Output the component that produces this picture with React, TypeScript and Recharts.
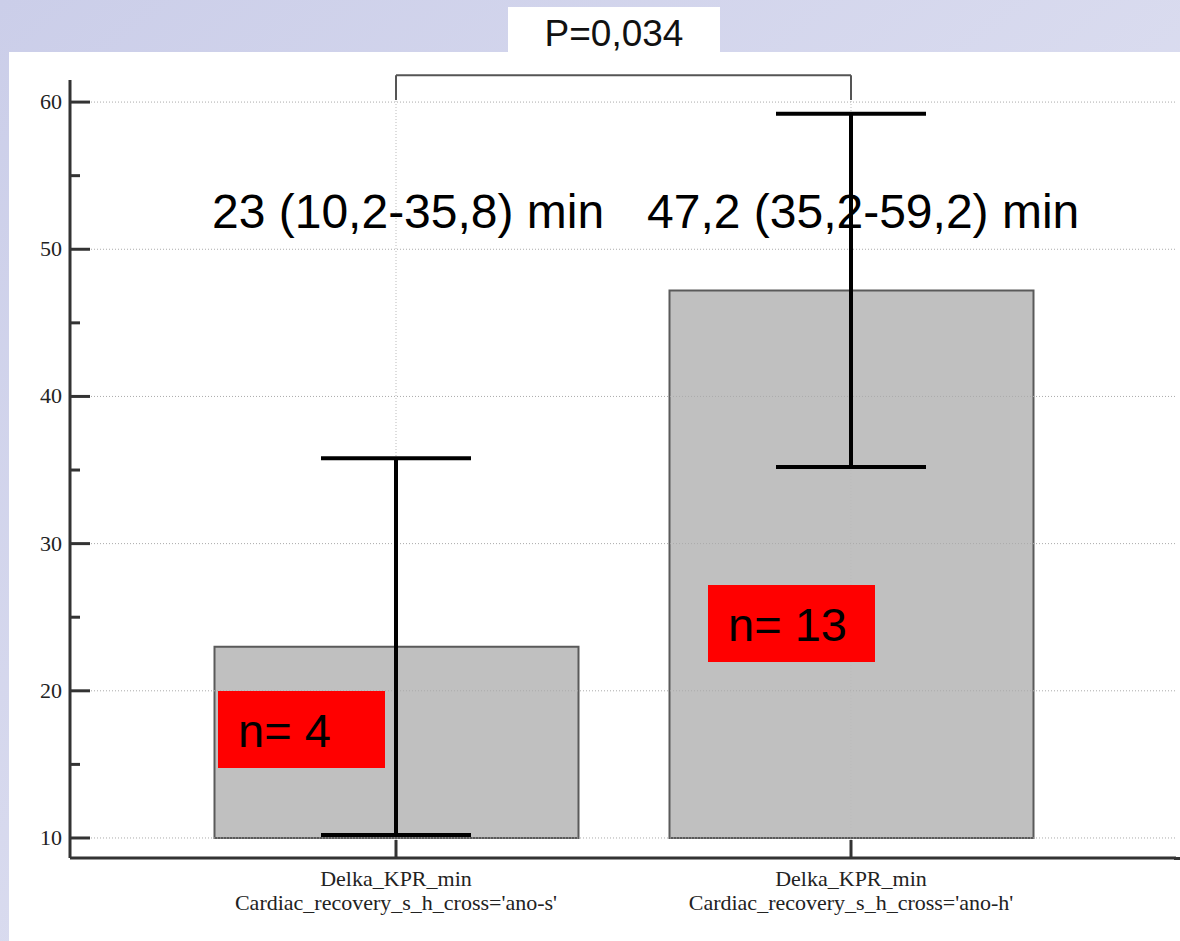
import React from 'react';
import { ComposedChart, Bar, Scatter, ErrorBar, XAxis, YAxis, ReferenceLine } from 'recharts';

// groups and their values (minutes)
const categories = ['ano-s', 'ano-h'];
const tickLines = [
    ['Delka_KPR_min', "Cardiac_recovery_s_h_cross='ano-s'"],
    ['Delka_KPR_min', "Cardiac_recovery_s_h_cross='ano-h'"],
];
const means = [23, 47.2];
const lows = [10.2, 35.2];
const highs = [35.8, 59.2];
const counts = [4, 13];
const meanLabels = ['23 (10,2-35,8) min', '47,2 (35,2-59,2) min'];
const pLabel = 'P=0,034';

const baseValue = 10;
const yTicks = [10, 15, 20, 25, 30, 35, 40, 45, 50, 55, 60];
const gridValues = [10, 20, 30, 40, 50, 60];
const bracketTop = 61.83;
const bracketFoot = 60.14;

const data = categories.map((name, i) => ({
    name,
    mean: means[i],
    err: [means[i] - lows[i], highs[i] - means[i]],
}));

const serif = '"Liberation Serif", "Times New Roman", serif';
const sans = '"Liberation Sans", Arial, sans-serif';

const YTick = (props: any) => {
    const { x, y, payload } = props;
    const major = payload.value % 10 === 0;
    return (
        <g>
            <line x1={x} x2={x + (major ? 20 : 10)} y1={y} y2={y} stroke="#333" strokeWidth={3} />
            {major && (
                <text x={x - 8} y={y} dy={7} textAnchor="end" fontFamily={serif} fontSize={22} fill="#222">
                    {payload.value}
                </text>
            )}
        </g>
    );
};

const XTick = (props: any) => {
    const { x, y, payload } = props;
    const idx = categories.indexOf(payload.value);
    const lines = tickLines[idx] || [];
    return (
        <g>
            <line x1={x} x2={x} y1={y - 18} y2={y} stroke="#333" strokeWidth={3} />
            {lines.map((t, i) => (
                <text key={i} x={x} y={y + 28 + i * 24} textAnchor="middle" fontFamily={serif} fontSize={22} fill="#222">
                    {t}
                </text>
            ))}
        </g>
    );
};

const App: React.FC = () => {
    return (
        <div
            style={{
                position: 'absolute',
                left: 0,
                top: 0,
                width: 1180,
                height: 941,
                overflow: 'hidden',
                background: 'linear-gradient(to bottom right, #cbcee9, #e6e7f4)',
            }}
        >
            {/* white slide panel */}
            <div style={{ position: 'absolute', left: 9, top: 52, width: 1171, height: 889, background: '#fff' }} />
            <div
                style={{
                    position: 'absolute',
                    left: 508,
                    top: 7,
                    width: 212,
                    height: 46,
                    background: '#fff',
                    fontFamily: sans,
                    fontSize: 37,
                    lineHeight: '54px',
                    textAlign: 'center',
                    color: '#111',
                }}
            >
                {pLabel}
            </div>

            <div style={{ position: 'absolute', left: 0, top: 0 }}>
                <ComposedChart width={1180} height={941} data={data} margin={{ top: 80, right: 4, bottom: 0, left: 10 }}>
                    {categories.map(c => (
                        <ReferenceLine key={'v' + c} x={c} stroke="#bbb" strokeDasharray="1 2" />
                    ))}
                    {gridValues.map(v => (
                        <ReferenceLine key={v} y={v} stroke="#aaa" strokeDasharray="1 2" />
                    ))}
                    <XAxis
                        dataKey="name"
                        height={83}
                        padding={{ left: 98.5, right: 97.5 }}
                        axisLine={{ stroke: '#333', strokeWidth: 3 }}
                        tickLine={false}
                        tickSize={0}
                        tickMargin={0}
                        tick={XTick}
                        interval={0}
                    />
                    <YAxis
                        type="number"
                        width={60}
                        domain={[8.64, 61.5]}
                        allowDataOverflow
                        ticks={yTicks}
                        interval={0}
                        axisLine={{ stroke: '#333', strokeWidth: 3 }}
                        tickLine={false}
                        tickSize={0}
                        tickMargin={0}
                        tick={YTick}
                    />
                    <Bar
                        dataKey={(d: any) => [baseValue, d.mean]}
                        barSize={364}
                        fill="#c0c0c0"
                        stroke="#5a5a5a"
                        strokeWidth={2}
                        isAnimationActive={false}
                    />
                    <Scatter dataKey="mean" shape={() => <g />} isAnimationActive={false}>
                        <ErrorBar dataKey="err" direction="y" width={75} stroke="#000" strokeWidth={4} isAnimationActive={false} />
                    </Scatter>
                    <ReferenceLine
                        segment={[{ x: categories[0], y: bracketTop }, { x: categories[1], y: bracketTop }]}
                        stroke="#555"
                        strokeWidth={2}
                        ifOverflow="visible"
                    />
                    {categories.map(c => (
                        <ReferenceLine
                            key={c}
                            segment={[{ x: c, y: bracketFoot }, { x: c, y: bracketTop }]}
                            stroke="#555"
                            strokeWidth={2}
                            ifOverflow="visible"
                        />
                    ))}
                </ComposedChart>
            </div>

            {/* x axis runs on to the slide edge */}
            <div style={{ position: 'absolute', left: 1174, top: 856.5, width: 6, height: 3, background: '#333' }} />

            {/* mean (CI) annotations */}
            {meanLabels.map((t, i) => (
                <div
                    key={t}
                    style={{
                        position: 'absolute',
                        left: i === 0 ? 212 : 647,
                        top: 184,
                        fontFamily: sans,
                        fontSize: 48,
                        lineHeight: '56px',
                        color: '#000',
                        whiteSpace: 'nowrap',
                    }}
                >
                    {t}
                </div>
            ))}

            {/* sample size boxes */}
            {counts.map((n, i) => (
                <div
                    key={i}
                    style={{
                        position: 'absolute',
                        left: i === 0 ? 218 : 708,
                        top: i === 0 ? 691 : 585,
                        width: 167,
                        height: 77,
                        background: '#ff0000',
                        fontFamily: sans,
                        fontSize: 47,
                        lineHeight: '80px',
                        paddingLeft: 20,
                        boxSizing: 'border-box',
                        color: '#000',
                        whiteSpace: 'nowrap',
                    }}
                >
                    {'n= ' + n}
                </div>
            ))}
        </div>
    );
};

export default App;
